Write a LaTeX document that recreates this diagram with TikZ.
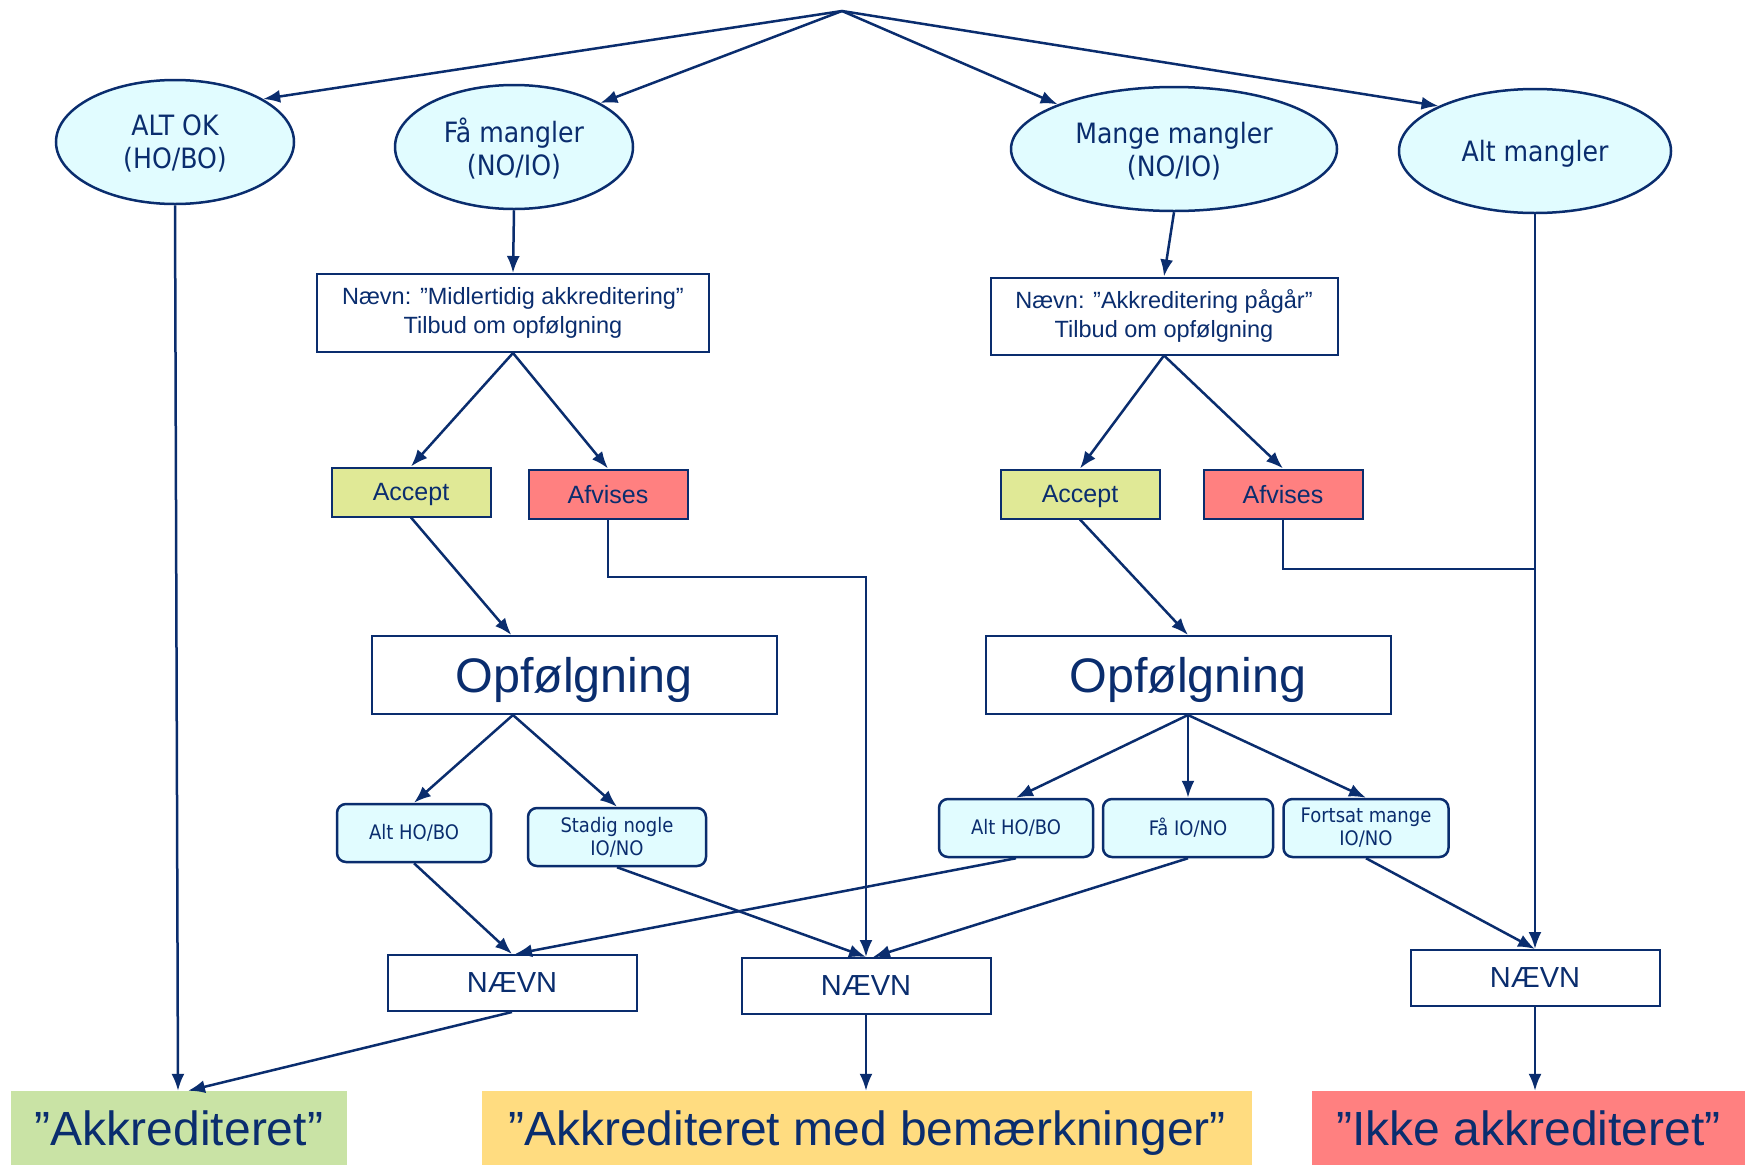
\documentclass[tikz,border=0pt]{standalone}
\usepackage{fontspec}
\setmainfont{Liberation Sans}
\newfontfamily\tah{DejaVu Sans Condensed}
\usetikzlibrary{shapes.geometric,arrows.meta,calc}
\definecolor{navy}{RGB}{10,45,110}
\definecolor{cyanfill}{RGB}{225,252,255}
\definecolor{accfill}{RGB}{224,233,150}
\definecolor{afvfill}{RGB}{255,128,128}
\definecolor{greenfill}{RGB}{201,227,165}
\definecolor{yellowfill}{RGB}{255,220,128}
\definecolor{redfill}{RGB}{255,128,128}
\begin{document}
\begin{tikzpicture}[x=1pt,y=-1pt,
  every node/.style={text=navy, inner sep=0pt, align=center},
  ell/.style={ellipse, draw=navy, line width=2.5pt, fill=cyanfill, font=\tah\fontsize{28}{33}\selectfont, text depth=0pt},
  nbox/.style={rectangle, draw=navy, line width=2pt, fill=white, font=\fontsize{23.5}{29}\selectfont},
  cbox/.style={rectangle, draw=navy, line width=2pt, font=\fontsize{25}{28}\selectfont, minimum width=159pt, minimum height=49pt, text depth=0pt},
  opf/.style={rectangle, draw=navy, line width=2pt, fill=white, font=\fontsize{48.5}{56}\selectfont, minimum width=405pt, minimum height=78pt, text depth=0pt},
  rbox/.style={rectangle, rounded corners=9pt, draw=navy, line width=2.5pt, fill=cyanfill, font=\tah\fontsize{20}{23}\selectfont, minimum height=58pt},
  nv/.style={rectangle, draw=navy, line width=2pt, fill=white, font=\fontsize{29}{34}\selectfont, minimum width=249pt, minimum height=56pt},
  res/.style={rectangle, font=\fontsize{48}{56}\selectfont, minimum height=74pt, text depth=0pt},
  arr/.style={draw=navy, line width=2.5pt, -{Latex[length=17pt,width=13pt]}},
  ln/.style={draw=navy, line width=2.5pt}
]
\useasboundingbox (0,0) rectangle (1745,1165);
\fill[white] (0,0) rectangle (1745,1165);

\coordinate (top) at (842,11);

% ellipses
\node[ell, minimum width=238pt, minimum height=124pt] (altok) at (175,142) {ALT OK\\(HO/BO)};
\node[ell, minimum width=238pt, minimum height=124pt] (fam) at (514,147) {Få mangler\\(NO/IO)};
\node[ell, minimum width=326pt, minimum height=124pt] (mange) at (1174,149) {Mange mangler\\(NO/IO)};
\node[ell, minimum width=272pt, minimum height=124pt] (altm) at (1535,151) {Alt mangler};

% Naevn boxes
\node[nbox, minimum width=392pt, minimum height=78pt] (boxL) at (513,313) {Nævn: ”Midlertidig akkreditering”\\Tilbud om opfølgning};
\node[nbox, minimum width=347pt, minimum height=77pt] (boxR) at (1164,316) {Nævn: ”Akkreditering pågår”\\Tilbud om opfølgning};

% accept / afvises
\node[cbox, fill=accfill] (accL) at (411,492) {Accept};
\node[cbox, fill=afvfill] (afvL) at (608,494) {Afvises};
\node[cbox, fill=accfill] (accR) at (1080,494) {Accept};
\node[cbox, fill=afvfill] (afvR) at (1283,494) {Afvises};

% Opfolgning
\node[opf] (opfL) at (574,675) {Opfølgning};
\node[opf] (opfR) at (1188,675) {Opfølgning};

% rounded boxes
\node[rbox, minimum width=154pt] (altL) at (414,833) {Alt HO/BO};
\node[rbox, minimum width=178pt] (stadig) at (617,837) {Stadig nogle\\IO/NO};
\node[rbox, minimum width=154pt] (altR) at (1016,828) {Alt HO/BO};
\node[rbox, minimum width=170pt] (faa) at (1188,828) {Få IO/NO};
\node[rbox, minimum width=165pt] (forts) at (1366,828) {Fortsat mange\\IO/NO};

% NAEVN
\node[nv] (naevnL) at (512,983) {NÆVN};
\node[nv] (naevnM) at (866,986) {NÆVN};
\node[nv] (naevnR) at (1535,978) {NÆVN};

% results
\node[res, fill=greenfill, minimum width=336pt] (akk) at (179,1128) {”Akkrediteret”};
\node[res, fill=yellowfill, minimum width=770pt] (bem) at (867,1128) {”Akkrediteret med bemærkninger”};
\node[res, fill=redfill, minimum width=433pt] (ikke) at (1528.5,1128) {”Ikke akkrediteret”};

% coordinates
\coordinate (opfLtop) at ($(opfL.north west)!0.346!(opfL.north east)$);
\coordinate (opfLbot) at ($(opfL.south west)!0.35!(opfL.south east)$);
\coordinate (jL) at (866,577);
\coordinate (jR) at (1535,569);

% connectors from top
\draw[arr] (top) -- (altok.26);
\draw[arr] (top) -- (fam.27);
\draw[arr] (top) -- (mange.159);
\draw[arr] (top) -- (altm.155);

% left branch
\draw[arr] (altok.south) -- ($(akk.north)+(-1,0)$);
\draw[arr] (fam.south) -- (boxL.north);
\draw[arr] (boxL.south) -- (accL.north);
\draw[arr] (boxL.south) -- (afvL.north);
\draw[arr] (accL.south) -- (opfLtop);
\draw[arr] (opfLbot) -- (altL.north);
\draw[arr] (opfLbot) -- (stadig.north);
\draw[arr] (altL.south) -- (naevnL.north);
\draw[arr] (stadig.south) -- (naevnM.north);
\draw[arr] (afvL.south) |- (jL) -- (naevnM.north);
\draw[arr] (naevnL.south) -- ($(akk.north)+(9,0)$);
\draw[arr] (naevnM.south) -- (naevnM.south |- bem.north);

% right branch
\draw[arr] (mange.south) -- (boxR.north);
\draw[arr] (boxR.south) -- (accR.north);
\draw[arr] (boxR.south) -- (afvR.north);
\draw[arr] (accR.south) -- (opfR.north);
\draw[arr] (opfR.south) -- (altR.north);
\draw[arr] (opfR.south) -- (faa.north);
\draw[arr] (opfR.south) -- (forts.north);
\draw[arr] (altR.south) -- ($(naevnL.north)+(3,0)$);
\draw[arr] (faa.south) -- ($(naevnM.north)+(7,0)$);
\draw[arr] (forts.south) -- (naevnR.north);
\draw[arr] (altm.south) -- (naevnR.north);
\draw[ln] (afvR.south) |- (jR);
\draw[arr] (naevnR.south) -- (naevnR.south |- ikke.north);
\end{tikzpicture}
\end{document}
